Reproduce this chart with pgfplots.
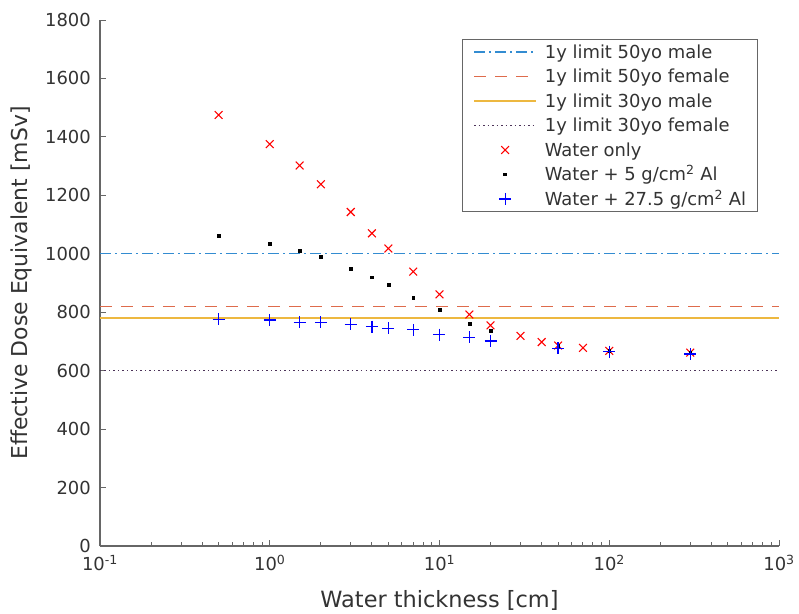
\documentclass[border=0pt]{standalone}
\usepackage{pgfplots}
\pgfplotsset{compat=1.18}
\usepackage{fontspec}
\setmainfont{DejaVu Sans}
\definecolor{mblue}{rgb}{0.2,0.55,0.82}
\definecolor{morange}{rgb}{0.87,0.42,0.3}
\definecolor{myellow}{rgb}{0.929,0.72,0.25}
\definecolor{mpurple}{rgb}{0.3,0.2,0.35}
\definecolor{txt}{rgb}{0.2,0.2,0.2}
\begin{document}
\begin{tikzpicture}
\useasboundingbox (0,0) rectangle (799bp,614bp);
\begin{axis}[
  at={(100bp,68bp)}, anchor=south west,
  scale only axis, width=679bp, height=526bp,
  xmode=log, xmin=0.1, xmax=1000, ymin=0, ymax=1800,
  axis x line*=bottom, axis y line*=left,
  axis line style={black!60, line width=1.1bp, -},
  every tick/.style={black!60, line width=0.9bp},
  major tick length=6bp, minor tick length=4bp,
  tick align=inside,
  xtick={0.1,1,10,100,1000},
  xticklabels={10\textsuperscript{-1},10\textsuperscript{0},10\textsuperscript{1},10\textsuperscript{2},10\textsuperscript{3}},
  minor xtick={0.2,0.3,0.4,0.5,0.6,0.7,0.8,0.9,2,3,4,5,6,7,8,9,20,30,40,50,60,70,80,90,200,300,400,500,600,700,800,900},
  ytick={0,200,400,600,800,1000,1200,1400,1600,1800},
  /pgf/number format/assume math mode=true,
  /pgf/number format/1000 sep={},
  ticklabel style={font=\fontsize{18}{20}\selectfont, text=txt},
  xticklabel style={anchor=north, inner sep=0pt, yshift=-9bp},
  yticklabel style={anchor=east, inner sep=0pt, xshift=-9bp},
  xlabel={Water thickness [cm]},
  ylabel={Effective Dose Equivalent [mSv]},
  xlabel style={at={(axis description cs:0.5,-0.1027)}, anchor=center, font=\fontsize{22.5}{26}\selectfont, text=txt},
  ylabel style={at={(axis description cs:-0.1163,0.5)}, anchor=center, font=\fontsize{22}{26}\selectfont, text=txt},
  legend image code/.code={\draw[mark repeat=2,mark phase=2,#1] plot coordinates {(0bp,0bp) (31bp,0bp) (62bp,0bp)};},
  legend cell align=left,
  legend style={at={(axis description cs:0.5331,0.9639)}, anchor=north west,
    draw=black!60, line width=1bp, fill=white,
    font=\fontsize{18}{20}\selectfont, text=txt,
    nodes={inner sep=0bp, text height=15.5bp, text depth=2.5bp},
    inner xsep=11bp, inner ysep=3.5bp,
    row sep=6.5bp, column sep=8bp},
]
\addplot[mblue, line width=1.3bp, dash pattern=on 11bp off 4bp on 2bp off 4bp] coordinates {(0.1,1000) (1000,1000)};
\addlegendentry{1y limit 50yo male}
\addplot[morange, line width=1.2bp, dash pattern=on 12bp off 9bp] coordinates {(0.1,820) (1000,820)};
\addlegendentry{1y limit 50yo female}
\addplot[myellow, line width=1.4bp] coordinates {(0.1,780) (1000,780)};
\addlegendentry{1y limit 30yo male}
\addplot[mpurple, line width=1.1bp, dash pattern=on 1.5bp off 3bp] coordinates {(0.1,600) (1000,600)};
\addlegendentry{1y limit 30yo female}
\addplot[only marks, red, mark=x, mark size=5.5bp, mark options={line width=1.1bp}] coordinates {
(0.5,1475) (1,1375) (1.5,1302) (2,1238) (3,1143) (4,1070) (5,1018) (7,939) (10,861) (15,792) (20,755) (30,719) (40,698) (50,686) (70,678) (100,668) (300,662)};
\addlegendentry{Water only}
\addplot[only marks, black, mark=square*, mark size=1.4bp] coordinates {
(0.5,1062) (1,1035) (1.5,1010) (2,990) (3,950) (4,920) (5,893) (7,851) (10,808) (15,762) (20,737) (50,685) (100,668) (300,662)};
\addlegendentry{Water + 5 g/cm\textsuperscript{2} Al}
\addplot[only marks, blue, mark=+, mark size=6bp, mark options={line width=1.3bp}] coordinates {
(0.5,776) (1,773) (1.5,765) (2,765) (3,759) (4,751) (5,745) (7,740) (10,723) (15,714) (20,702) (50,676) (100,665) (300,657)};
\addlegendentry{Water + 27.5 g/cm\textsuperscript{2} Al}
\end{axis}
\end{tikzpicture}
\end{document}
